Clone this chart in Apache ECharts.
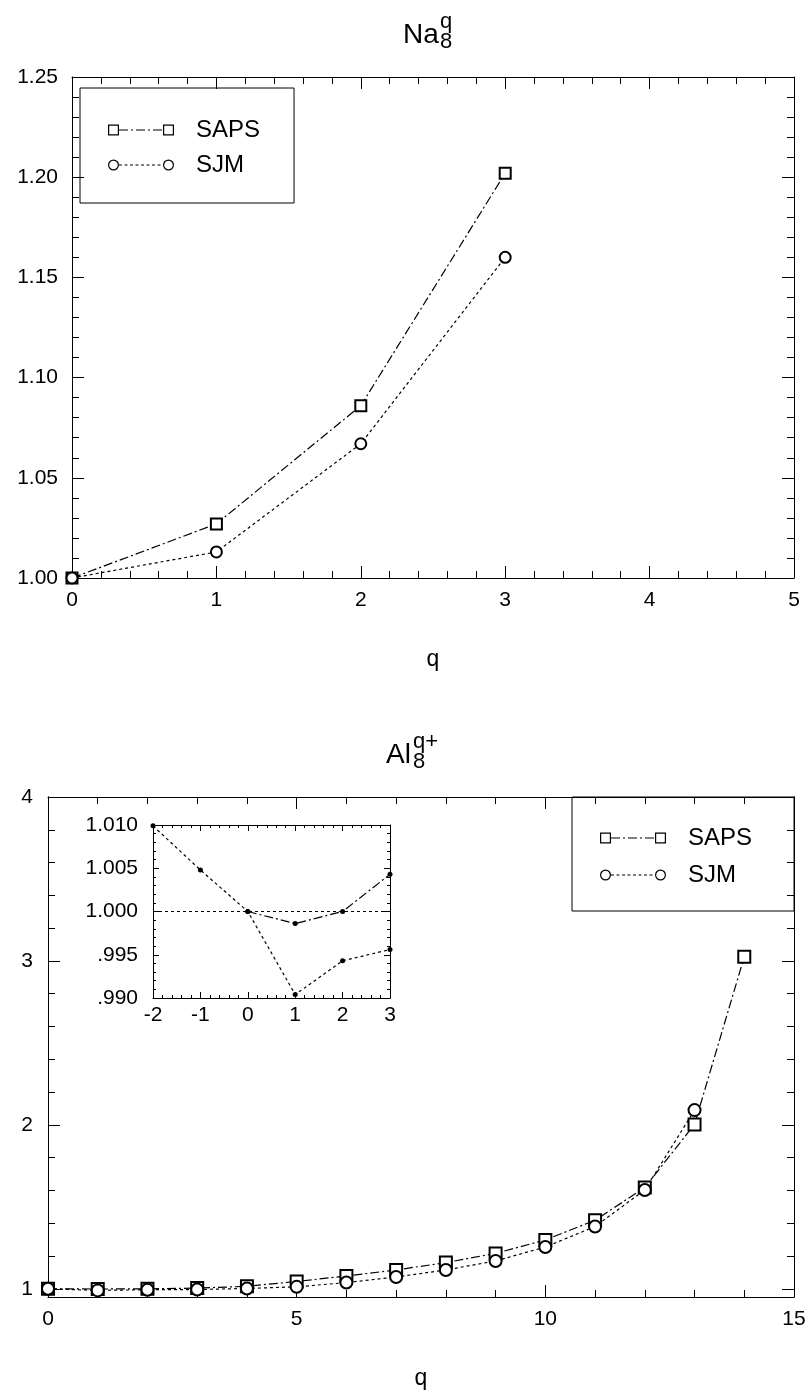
<!DOCTYPE html>
<html>
<head>
<meta charset="utf-8">
<script src="https://cdn.jsdelivr.net/npm/echarts@6/dist/echarts.min.js"></script>
<style>
  html, body { margin: 0; padding: 0; background: #fff; }
  #chart { width: 809px; height: 1392px; }
</style>
</head>
<body>
<div id="chart"></div>
<script>
// ---- Na8^q : relative values vs charge q ----
const naQ = [0, 1, 2, 3];
const naSAPS = [1.000, 1.027, 1.086, 1.202];
const naSJM = [1.000, 1.013, 1.067, 1.160];

// ---- Al8^q+ : relative values vs charge q ----
const alQ = [0, 1, 2, 3, 4, 5, 6, 7, 8, 9, 10, 11, 12, 13, 14];
const alSAPS = [1.000, 0.9986, 1.000, 1.0043, 1.015, 1.045, 1.078, 1.115, 1.160, 1.216, 1.298, 1.418, 1.618, 2.003, 3.026];
const alSJM = [1.000, 0.9904, 0.9943, 0.9956, 1.002, 1.012, 1.038, 1.072, 1.115, 1.170, 1.255, 1.380, 1.603, 2.090];
const alYMajor = [1, 2, 3, 4];
const alYMinor = [1.2, 1.4, 1.6, 1.8, 2.2, 2.4, 2.6, 2.8, 3.2, 3.4, 3.6, 3.8];

// ---- Al8 inset: close-up around 1.000 ----
const insetSAPSQ = [0, 1, 2, 3];
const insetSAPS = [1.000, 0.9986, 1.000, 1.0043];
const insetSJMQ = [-2, -1, 0, 1, 2, 3];
const insetSJM = [1.0099, 1.0048, 1.000, 0.9904, 0.9943, 0.9956];

const seriesNames = ['SAPS', 'SJM'];

const FONT = '"Liberation Sans", Arial, Helvetica, sans-serif';
const BLACK = '#000';
const DASH_DOT = [9, 3, 2, 3];
const DOTTED = [3, 3];

const pairs = (xs, ys) => ys.map((y, i) => [xs[i], y]);

// legend icons: symbol at each end joined by the series' dash pattern
function hollowRect(x, y, s, t) {
  return `M${x} ${y}H${x + s}V${y + s}H${x}Z` +
         `M${x + t} ${y + t}V${y + s - t}H${x + s - t}V${y + t}Z`;
}
function hollowCircle(cx, cy, r, t) {
  const ri = r - t;
  return `M${cx - r} ${cy}A${r} ${r} 0 1 1 ${cx + r} ${cy}A${r} ${r} 0 1 1 ${cx - r} ${cy}Z` +
         `M${cx - ri} ${cy}A${ri} ${ri} 0 1 0 ${cx + ri} ${cy}A${ri} ${ri} 0 1 0 ${cx - ri} ${cy}Z`;
}
function dashes(x0, x1, y, t, pattern) {
  let s = '', x = x0, i = 0;
  while (x < x1 - 0.01) {
    const end = Math.min(x + pattern[i % pattern.length], x1);
    if (i % 2 === 0) s += `M${x} ${y}H${end}V${y + t}H${x}Z`;
    x = end; i++;
  }
  return s;
}
const ICON_W = 66, ICON_H = 11;
const sapsIcon = 'path://' + hollowRect(0, 0, 11, 1.2) + dashes(11, 55, 5, 1, [9, 3, 2, 3]) + hollowRect(55, 0, 11, 1.2);
const sjmIcon = 'path://' + hollowCircle(5.5, 5.5, 5.5, 1.2) + dashes(11, 55, 5, 1, [3, 2.5]) + hollowCircle(60.5, 5.5, 5.5, 1.2);

const labelStyle = (size) => ({ color: BLACK, fontFamily: FONT, fontSize: size });

function axis(o) {
  const isLabelled = o.labels !== false;
  return {
    type: 'value',
    gridIndex: o.grid,
    position: o.position,
    min: o.min,
    max: o.max,
    interval: o.interval,
    name: o.name || '',
    nameLocation: 'middle',
    nameGap: o.nameGap || 0,
    nameTextStyle: labelStyle(23),
    axisLine: { show: true, onZero: false, lineStyle: { color: BLACK, width: 1 } },
    axisTick: Object.assign({ show: true, inside: true, length: o.tickLen || 12, lineStyle: { color: BLACK, width: 1 } },
      o.tickValues ? { customValues: o.tickValues } : {}),
    minorTick: { show: !!o.minor, splitNumber: o.minor || 5, length: o.minorLen || 7, lineStyle: { color: BLACK, width: 1 } },
    axisLabel: Object.assign({ show: isLabelled, margin: o.margin || 12, formatter: o.formatter }, labelStyle(o.fontSize || 21),
      o.labelValues ? { customValues: o.labelValues } : {}),
    splitLine: { show: false },
    minorSplitLine: { show: false },
    splitArea: { show: false },
    z: o.z || 2
  };
}

const trendSeries = (name, xIdx, yIdx, data, symbol, size, dash) => ({
  type: 'line',
  name,
  xAxisIndex: xIdx,
  yAxisIndex: yIdx,
  data,
  symbol,
  symbolSize: size,
  showSymbol: true,
  itemStyle: { color: BLACK, borderColor: BLACK, borderWidth: 1.2 },
  lineStyle: { color: BLACK, width: 1.2, type: dash },
  z: 3
});

const insetSeries = (name, data, dash, extra) => Object.assign({
  type: 'line',
  name,
  xAxisIndex: 4,
  yAxisIndex: 6,
  data,
  symbol: 'circle',
  symbolSize: 5,
  itemStyle: { color: BLACK },
  lineStyle: { color: BLACK, width: 1.2, type: dash },
  z: 6
}, extra || {});

const titleStyle = (size) => ({ color: BLACK, fontFamily: FONT, fontSize: size, fontWeight: 'normal' });

const legendBox = (left, top, padding, gap) => ({
  orient: 'vertical',
  left, top,
  padding,
  itemGap: gap,
  itemWidth: ICON_W,
  itemHeight: ICON_H,
  borderColor: BLACK,
  borderWidth: 1,
  selectedMode: false,
  itemStyle: { color: BLACK, borderWidth: 0 },
  textStyle: Object.assign({ padding: [0, 0, 0, 17] }, labelStyle(24)),
  data: [
    { name: seriesNames[0], icon: sapsIcon },
    { name: seriesNames[1], icon: sjmIcon }
  ]
});

const option = {
  animation: false,
  backgroundColor: '#fff',
  title: [
    { text: 'Na', left: 403, top: 21, padding: 0, textStyle: titleStyle(28) },
    { text: '8', left: 440, top: 31, padding: 0, textStyle: titleStyle(22) },
    { text: 'q', left: 440, top: 11, padding: 0, textStyle: titleStyle(22) },
    { text: 'Al', left: 386, top: 741, padding: 0, textStyle: titleStyle(28) },
    { text: '8', left: 413, top: 751, padding: 0, textStyle: titleStyle(22) },
    { text: 'q+', left: 413, top: 731, padding: 0, textStyle: titleStyle(22) }
  ],
  legend: [
    legendBox(80, 88, [30, 34, 26, 28], 11),
    legendBox(572, 797, [29, 42, 24, 28], 13)
  ],
  grid: [
    { left: 72, top: 77, width: 722, height: 501 },
    { left: 48, top: 797, width: 746, height: 500 },
    { left: 153, top: 825, width: 237, height: 173, show: true, backgroundColor: '#fff', borderWidth: 0, z: 5 }
  ],
  xAxis: [
    axis({ grid: 0, position: 'bottom', min: 0, max: 5, interval: 1, minor: 5, margin: 12, name: 'q', nameGap: 70 }),
    axis({ grid: 0, position: 'top', min: 0, max: 5, interval: 1, minor: 5, labels: false }),
    axis({ grid: 1, position: 'bottom', min: 0, max: 15, interval: 5, minor: 5, margin: 12, name: 'q', nameGap: 70 }),
    axis({ grid: 1, position: 'top', min: 0, max: 15, interval: 5, minor: 5, labels: false }),
    axis({ grid: 2, position: 'bottom', min: -2, max: 3, interval: 1, minor: 5, margin: 7, tickLen: 6, minorLen: 3, z: 6 }),
    axis({ grid: 2, position: 'top', min: -2, max: 3, interval: 1, minor: 5, tickLen: 6, minorLen: 3, labels: false, z: 6 })
  ],
  yAxis: [
    axis({ grid: 0, position: 'left', min: 1, max: 1.25, interval: 0.05, minor: 5, margin: 14, formatter: v => v.toFixed(2) }),
    axis({ grid: 0, position: 'right', min: 1, max: 1.25, interval: 0.05, minor: 5, labels: false }),
    axis({ grid: 1, position: 'left', min: 0.95, max: 4, margin: 15, tickValues: alYMajor, labelValues: alYMajor }),
    axis({ grid: 1, position: 'left', min: 0.95, max: 4, tickLen: 7, tickValues: alYMinor, labels: false }),
    axis({ grid: 1, position: 'right', min: 0.95, max: 4, tickValues: alYMajor, labels: false }),
    axis({ grid: 1, position: 'right', min: 0.95, max: 4, tickLen: 7, tickValues: alYMinor, labels: false }),
    axis({ grid: 2, position: 'left', min: 0.99, max: 1.01, interval: 0.005, minor: 5, margin: 15, tickLen: 6, minorLen: 3, z: 6,
      formatter: v => v.toFixed(3).replace(/^0/, '') }),
    axis({ grid: 2, position: 'right', min: 0.99, max: 1.01, interval: 0.005, minor: 5, tickLen: 6, minorLen: 3, labels: false, z: 6 })
  ],
  series: [
    trendSeries(seriesNames[0], 0, 0, pairs(naQ, naSAPS), 'emptyRect', 11, DASH_DOT),
    trendSeries(seriesNames[1], 0, 0, pairs(naQ, naSJM), 'emptyCircle', 11, DOTTED),
    trendSeries(seriesNames[0], 2, 2, pairs(alQ, alSAPS), 'emptyRect', 12, DASH_DOT),
    trendSeries(seriesNames[1], 2, 2, pairs(alQ, alSJM), 'emptyCircle', 12, DOTTED),
    insetSeries(seriesNames[0], pairs(insetSAPSQ, insetSAPS), DASH_DOT),
    insetSeries(seriesNames[1], pairs(insetSJMQ, insetSJM), DOTTED, {
      markLine: {
        silent: true,
        symbol: 'none',
        label: { show: false },
        lineStyle: { color: BLACK, width: 1, type: DOTTED },
        data: [{ yAxis: 1 }]
      }
    })
  ]
};

const chart = echarts.init(document.getElementById('chart'), null, { renderer: 'canvas' });
chart.setOption(option);
</script>
</body>
</html>
